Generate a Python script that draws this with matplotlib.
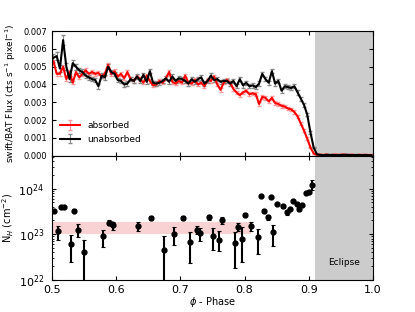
import numpy as np
import matplotlib.pyplot as plt

# swift/BAT light curve, bin centres 0.5025 ... 0.9975 (step 0.005)
phase = np.round(np.arange(0.5025, 1.0, 0.005), 4)

# flux in units of 1e-3 cts/s/pixel
unabs = [5.5, 5.6, 4.9, 6.5, 5.0, 4.3, 5.2, 5.0, 4.8, 4.7,
         4.5, 4.4, 4.3, 4.25, 3.9, 4.5, 4.4, 5.0, 4.7, 4.6,
         4.25, 4.2, 4.0, 4.05, 4.3, 4.2, 4.45, 4.2, 4.55, 4.15,
         4.75, 4.1, 4.05, 4.1, 4.2, 4.35, 4.15, 4.45, 4.2, 4.35,
         4.3, 4.2, 4.05, 4.3, 4.15, 4.3, 4.4, 4.05, 4.2, 4.5,
         4.25, 4.3, 4.15, 4.2, 4.2, 4.05, 4.2, 3.9, 4.3, 3.95,
         4.1, 3.9, 3.95, 3.85, 4.05, 4.6, 4.3, 4.1, 4.75, 4.05,
         4.2, 3.65, 3.9, 3.85, 3.8, 3.9, 3.55, 3.2, 2.85, 2.3,
         1.3, 0.45, 0.08, 0.03, 0.02, 0.04, 0.03, 0.03, 0.02, 0.03,
         0.03, 0.04, 0.03, 0.02, 0.03, 0.03, 0.02, 0.03, 0.02, 0.02]
unabs_err = [0.22, 0.22, 0.2, 0.3, 0.2, 0.18, 0.18, 0.16, 0.15, 0.15,
             0.14, 0.14, 0.13, 0.13, 0.13, 0.13, 0.13, 0.14, 0.13, 0.13,
             0.12, 0.12, 0.12, 0.12, 0.12, 0.12, 0.12, 0.12, 0.12, 0.12,
             0.12, 0.12, 0.12, 0.12, 0.12, 0.12, 0.12, 0.12, 0.12, 0.12,
             0.12, 0.12, 0.12, 0.12, 0.12, 0.12, 0.12, 0.12, 0.12, 0.12,
             0.12, 0.12, 0.12, 0.12, 0.12, 0.12, 0.12, 0.12, 0.12, 0.12,
             0.12, 0.12, 0.12, 0.12, 0.12, 0.13, 0.12, 0.12, 0.13, 0.12,
             0.12, 0.12, 0.12, 0.12, 0.12, 0.12, 0.12, 0.11, 0.11, 0.1,
             0.08, 0.05, 0.03, 0.03, 0.03, 0.03, 0.03, 0.03, 0.03, 0.03,
             0.03, 0.03, 0.03, 0.03, 0.03, 0.03, 0.03, 0.03, 0.03, 0.03]

absd = [5.3, 4.6, 4.6, 5.0, 4.3, 4.7, 4.1, 4.7, 4.4, 4.6,
        4.8, 4.6, 4.7, 4.6, 4.65, 4.45, 4.6, 5.1, 4.6, 4.75,
        4.45, 4.6, 4.35, 4.7, 4.3, 4.2, 4.45, 4.3, 4.1, 4.5,
        4.2, 3.95, 4.0, 4.2, 4.1, 4.35, 4.7, 4.15, 4.05, 4.2,
        4.1, 4.5, 4.1, 4.05, 4.25, 4.0, 4.1, 3.9, 4.25, 4.2,
        4.45, 4.0, 3.7, 4.1, 4.25, 4.1, 3.75, 3.55, 3.4, 3.55,
        3.65, 3.45, 3.5, 3.45, 2.9, 3.3, 3.25, 3.05, 3.25, 2.95,
        2.9, 2.8, 2.75, 2.65, 2.6, 2.45, 2.2, 1.8, 1.4, 0.95,
        0.45, 0.12, 0.04, 0.05, 0.03, 0.06, 0.02, 0.04, 0.05, 0.03,
        0.06, 0.04, 0.03, 0.05, 0.02, 0.04, 0.03, 0.04, 0.03, 0.03]
absd_err = [0.1, 0.1, 0.1, 0.1, 0.1, 0.1, 0.1, 0.1, 0.1, 0.1,
            0.1, 0.1, 0.1, 0.1, 0.1, 0.1, 0.1, 0.1, 0.1, 0.1,
            0.1, 0.1, 0.1, 0.1, 0.1, 0.1, 0.1, 0.1, 0.1, 0.1,
            0.1, 0.1, 0.1, 0.1, 0.1, 0.1, 0.1, 0.1, 0.1, 0.1,
            0.1, 0.1, 0.1, 0.1, 0.1, 0.1, 0.1, 0.1, 0.1, 0.1,
            0.1, 0.1, 0.1, 0.1, 0.1, 0.1, 0.1, 0.1, 0.1, 0.1,
            0.1, 0.1, 0.1, 0.1, 0.1, 0.1, 0.1, 0.1, 0.1, 0.1,
            0.1, 0.1, 0.1, 0.1, 0.1, 0.1, 0.1, 0.09, 0.08, 0.07,
            0.05, 0.04, 0.03, 0.03, 0.03, 0.03, 0.03, 0.03, 0.03, 0.03,
            0.03, 0.03, 0.03, 0.03, 0.03, 0.03, 0.03, 0.03, 0.03, 0.03]

# column density fits, units of 1e22 cm^-2 (value, lower, upper)
nh_phase = [0.504, 0.5098, 0.514, 0.519, 0.530, 0.535, 0.540, 0.5498, 0.580, 0.589,
            0.593, 0.5955, 0.634, 0.655, 0.6745, 0.690, 0.7045, 0.715, 0.7255, 0.7305,
            0.745, 0.7502, 0.7606, 0.7653, 0.785, 0.790, 0.7955, 0.8006, 0.8105, 0.8204,
            0.8256, 0.8307, 0.836, 0.8407, 0.8447, 0.851, 0.8603, 0.8656, 0.8707, 0.876,
            0.881, 0.885, 0.8899, 0.8952, 0.9004, 0.9055]
nh = [32, 11.6, 40, 39, 6.0, 33, 12.3, 4.0, 9.2, 18,
      17, 15.7, 15, 23, 4.6, 10, 23, 6.6, 12.6, 10.5,
      23.5, 9.1, 7.6, 20, 6.3, 14.5, 7.8, 26, 15, 8.5,
      68, 32, 24, 67, 11, 46, 41, 30, 36, 53,
      46, 36, 43, 80, 83, 117]
nh_lo = [30, 7.4, 38, 37, 2.5, 31, 8.7, 0.5, 5.2, 16,
         15, 12.5, 12, 21, 0.3, 5.8, 21, 2.3, 10, 7,
         21, 4.5, 4.3, 17, 1.8, 12, 2.5, 23.5, 12, 3.6,
         66, 29, 21, 65, 5.5, 44, 38, 27, 34, 51,
         44, 33, 41, 77, 80, 91]
nh_hi = [34, 14.8, 42, 41, 9.5, 35, 17, 7.6, 12.6, 20,
         19, 19, 19, 25.5, 9.1, 14.5, 25.5, 11.2, 15.5, 13.5,
         26, 13.8, 11.5, 23.5, 11.2, 17.5, 14.5, 28.5, 18.5, 13.2,
         70, 35, 27, 69, 16, 48, 44, 33, 38, 55,
         48, 39, 45, 83, 86, 155]

band_phase = [0.5, 0.81]
band_nh = [10, 18.6]
eclipse = [0.91, 1.0]

plt.rcParams['xtick.direction'] = 'in'
plt.rcParams['ytick.direction'] = 'in'
plt.rcParams['xtick.top'] = True
plt.rcParams['ytick.right'] = True

fig, (ax1, ax2) = plt.subplots(2, 1, sharex=True, figsize=(4.15, 3.12), dpi=100)
plt.subplots_adjust(left=0.125, right=0.899, top=0.9, bottom=0.103, hspace=0)

s = 1e-3
ax1.axvspan(eclipse[0], eclipse[1], color='#cccccc', lw=0)
ax1.errorbar(phase, np.array(absd) * s, yerr=np.array(absd_err) * s, color='red',
             ecolor='#ff9999', lw=1.5, elinewidth=0.8, capsize=1.2, label='absorbed')
ax1.errorbar(phase, np.array(unabs) * s, yerr=np.array(unabs_err) * s, color='black',
             ecolor='#888888', lw=1.5, elinewidth=0.8, capsize=1.2, label='unabsorbed')
ax1.set_ylim(0, 0.007)
ax1.set_yticks(np.arange(0, 0.0071, 0.001))
ax1.set_yticklabels(['%.3f' % v for v in np.arange(0, 0.0071, 0.001)])
ax1.tick_params(labelsize=6, length=3)
ax1.set_ylabel('swift/BAT Flux (cts s$^{-1}$ pixel$^{-1}$)', fontsize=6.5)
ax1.legend(loc='lower left', frameon=False, fontsize=6.5, handlelength=2.2,
           bbox_to_anchor=(0.0, 0.03))

ax2.axvspan(eclipse[0], eclipse[1], color='#cccccc', lw=0)
ax2.fill_between(band_phase, band_nh[0] * 1e22, band_nh[1] * 1e22,
                 color='#f9d3d3', lw=0)
nh_v = np.array(nh) * 1e22
yerr = [nh_v - np.array(nh_lo) * 1e22, np.array(nh_hi) * 1e22 - nh_v]
ax2.errorbar(nh_phase, nh_v, yerr=yerr, fmt='o', color='black', ms=3.5,
             elinewidth=1.5, capsize=1.5, capthick=0.8)
ax2.set_yscale('log')
ax2.set_ylim(1e22, 5.3e24)
ax2.set_xlim(0.5, 1.0)
ax2.set_xticks([0.5, 0.6, 0.7, 0.8, 0.9, 1.0])
ax2.tick_params(which='major', labelsize=8, length=3)
ax2.tick_params(axis='x', which='major', pad=3.5)
ax2.tick_params(axis='y', which='major', pad=5.5)
ax2.tick_params(which='minor', length=1.5)
ax2.set_ylabel('N$_H$ (cm$^{-2}$)', fontsize=7, labelpad=2)
ax2.set_xlabel(r'$\phi$ - Phase', fontsize=7, labelpad=0.5)
ax2.text(0.955, 2.4e22, 'Eclipse', fontsize=6.5, ha='center', va='center')

fig.savefig('out.png', dpi=100)
